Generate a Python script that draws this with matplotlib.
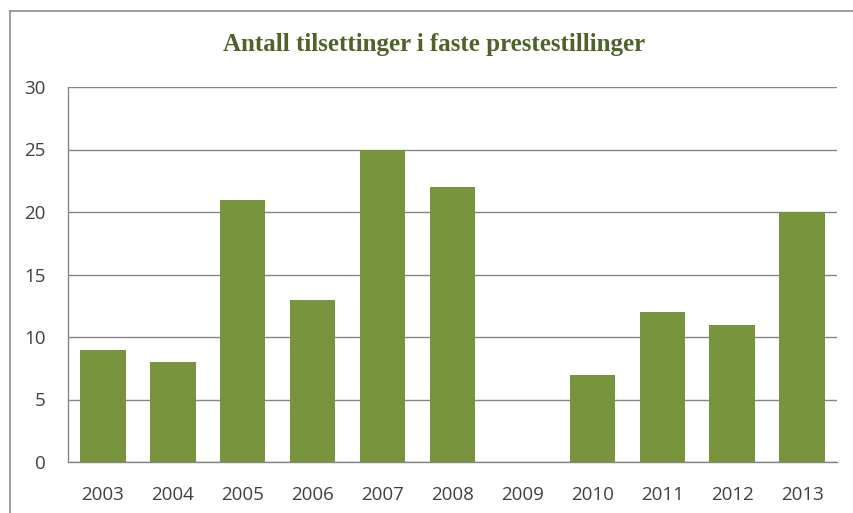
import numpy as np
import matplotlib.pyplot as plt
from matplotlib.lines import Line2D

years = ['2003', '2004', '2005', '2006', '2007', '2008', '2009', '2010', '2011', '2012', '2013']
tilsettinger = [9, 8, 21, 13, 25, 22, 0, 7, 12, 11, 20]
y_ticks = [0, 5, 10, 15, 20, 25, 30]

W, H = 854, 513
fig = plt.figure(figsize=(W / 100, H / 100), dpi=100)
ax = fig.add_axes([68 / W, 1 - 462 / H, (837 - 68) / W, (462 - 87) / H])

x = np.arange(len(years))
ax.bar(x, tilsettinger, width=0.65, color='#77933c', zorder=3)

ax.set_xlim(-0.5, len(years) - 0.5)
ax.set_ylim(0, 30)
ax.set_yticks(y_ticks)
ax.set_xticks(x)
ax.set_xticklabels(years)

ax.grid(True, axis='y', color='#868686', lw=1, zorder=0)
for s in ['top', 'right']:
    ax.spines[s].set_visible(False)
for s in ['left', 'bottom']:
    ax.spines[s].set_color('#868686')
    ax.spines[s].set_linewidth(1)

ax.tick_params(axis='both', length=0, labelcolor='#404040', labelsize=13.5)
ax.tick_params(axis='x', pad=17)
ax.tick_params(axis='y', pad=16)
for lab in ax.get_xticklabels() + ax.get_yticklabels():
    lab.set_fontfamily('Open Sans')

fig.text(434 / W, 1 - 45 / H, 'Antall tilsettinger i faste prestestillinger',
         ha='center', va='center', color='#4f6228', fontsize=18,
         fontweight='bold', family='Liberation Serif')

# ramme rundt diagrammet
fig.add_artist(Line2D([10 / W, 10 / W], [0, 1 - 11 / H], color='#8c8c8c', lw=1.2))
fig.add_artist(Line2D([10 / W, 1], [1 - 11 / H, 1 - 11 / H], color='#8c8c8c', lw=1.2))

fig.savefig('out.png', dpi=100)
